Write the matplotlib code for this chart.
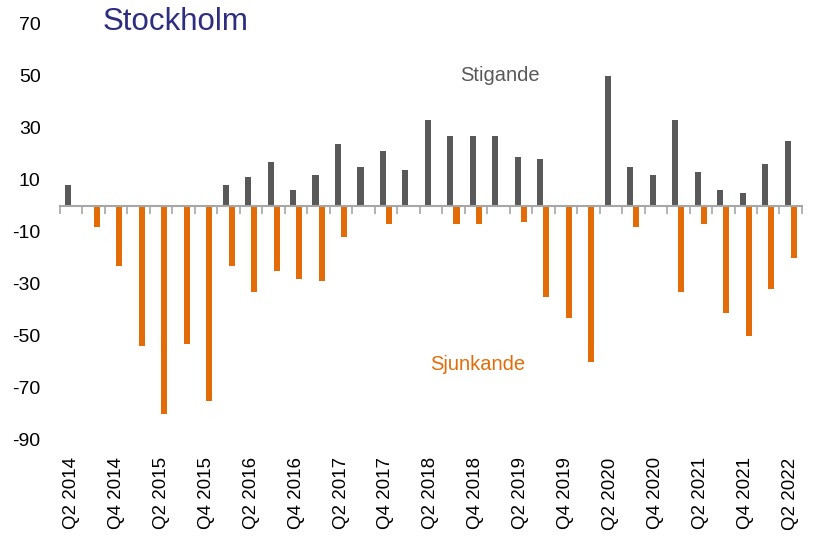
import numpy as np
import matplotlib; matplotlib.use("Agg")
import matplotlib.pyplot as plt

plt.rcParams["font.family"] = ["Liberation Sans", "DejaVu Sans"]
plt.rcParams["axes.unicode_minus"] = False

# quarters Q2 2014 .. Q2 2022
quarters = [f"Q{(q % 4) + 1} {2014 + q // 4}" for q in range(1, 34)]
stigande = [8, 0, 0, 0, 0, 0, 0, 8, 11, 17, 6, 12, 24, 15, 21, 14,
            33, 27, 27, 27, 19, 18, 0, 0, 50, 15, 12, 33, 13, 6, 5, 16, 25]
sjunkande = [0, -8, -23, -54, -80, -53, -75, -23, -33, -25, -28, -29, -12, 0, -7, 0,
             0, -7, -7, 0, -6, -35, -43, -60, 0, -8, 0, -33, -7, -41, -50, -32, -20]
yticks = [70, 50, 30, 10, -10, -30, -50, -70, -90]

GREY = "#595959"
ORANGE = "#E36C09"
NAVY = "#2E2D7F"

x = np.arange(len(quarters))
w = 0.27

fig = plt.figure(figsize=(8.17, 5.39), dpi=100)
ax = fig.add_axes([0.0734, 0.1837, 0.9082, 0.7718])

ax.bar(x - w / 2, stigande, width=w, color=GREY)
ax.bar(x + w / 2, sjunkande, width=w, color=ORANGE)

ax.set_xlim(-0.5, len(quarters) - 0.5)
ax.set_ylim(-90, 70)
ax.set_yticks(yticks)
ax.tick_params(axis="y", length=0, labelsize=14, pad=14)

for s in ["top", "right", "left"]:
    ax.spines[s].set_visible(False)
ax.spines["bottom"].set_position(("data", 0))
ax.spines["bottom"].set_color("#A6A6A6")
ax.spines["bottom"].set_linewidth(1.5)
ax.set_xticks(np.arange(len(quarters) + 1) - 0.5)
ax.tick_params(axis="x", length=6, width=1.2, color="#A6A6A6", labelbottom=False)

lab = ax.secondary_xaxis("bottom")
lab.spines["bottom"].set_visible(False)
lab.set_xticks(x[::2], quarters[::2], rotation=90)
lab.tick_params(length=0, labelsize=13.5, pad=12.5)

fig.text(103 / 817, 1 - 22 / 539, "Stockholm", fontsize=22.5, color=NAVY, va="center")
ax.text(19.06, 50.2, "Stigande", fontsize=14.5, color=GREY, ha="center", va="center")
ax.text(18.08, -61, "Sjunkande", fontsize=14.5, color=ORANGE, ha="center", va="center")

fig.savefig("out.png", dpi=100)
